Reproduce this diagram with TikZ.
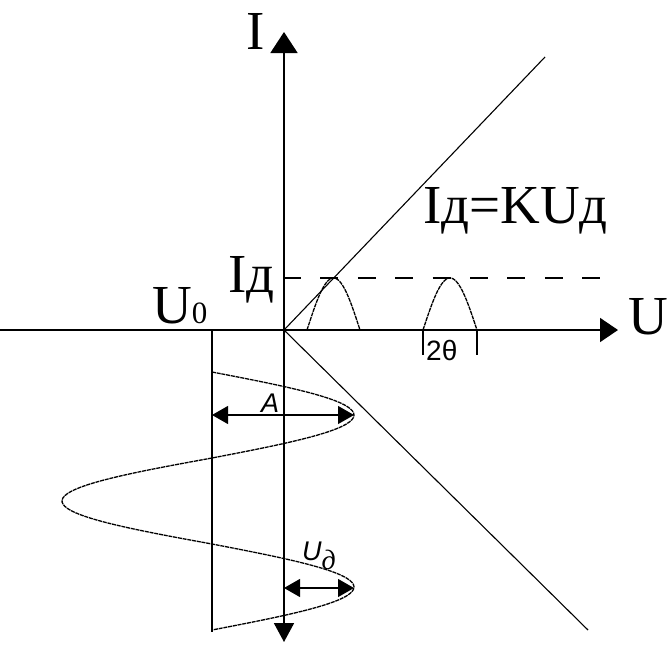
\documentclass[tikz,border=0pt]{standalone}
\usepackage{fontspec}
\setmainfont{Liberation Serif}
\setsansfont{Liberation Sans}
\usepackage{tikz}
\usetikzlibrary{arrows.meta, calc}

\tikzset{
    axisline/.style={line width=1.8pt},
    slopeline/.style={line width=1.1pt},
    pulseline/.style={line width=1.3pt, dash pattern=on 4pt off 0.8pt},
    biglabel/.style={font=\fontsize{55}{60}\selectfont, inner sep=0pt, anchor=base west},
    handlabel/.style={font=\sffamily\itshape\fontsize{27}{29}\selectfont, inner sep=0pt, anchor=base west},
    bigtip/.style={-{Triangle[length=18pt, width=24pt]}},
    amptip/.style={{Triangle[length=16pt, width=18pt]}-{Triangle[length=16pt, width=18pt]}}
}

\begin{document}
\begin{tikzpicture}[x=1pt, y=-1pt]
    \useasboundingbox (0,0) rectangle (670,646);

    % 1. KEY POINTS
    \coordinate (O) at (284,330);
    \coordinate (Itop) at (284,32);
    \coordinate (Ibot) at (284,642);
    \coordinate (Uleft) at (0,330);
    \coordinate (Uright) at (618,330);
    \coordinate (U0top) at (212,330);
    \coordinate (U0bot) at (212,632);
    \coordinate (Kup) at (545,57);
    \coordinate (Kdown) at (588,630);
    \coordinate (Idtick) at (283,278);
    \coordinate (Idend) at (602,278);

    % 2. AXES
    \draw[axisline, bigtip] (Uleft) -- (Uright);
    \draw[axisline, {Triangle[length=19pt, width=20pt]}-{Triangle[length=21pt, width=27pt]}] (Ibot) -- (Itop);
    \draw[line width=1.6pt] (U0top) -- (U0bot);

    % 3. CHARACTERISTIC AND CURRENT LEVEL
    \draw[slopeline] (O) -- (Kup);
    \draw[slopeline] (O) -- (Kdown);
    \draw[line width=1.2pt, dash pattern=on 18pt off 19.4pt] (Idtick) -- (Idend);

    % 4. PULSES ON THE U AXIS
    \draw[pulseline] plot[domain=307:360, samples=40, smooth] (\x, {330 - 52*sin(180*(\x-307)/53)});
    \draw[pulseline] plot[domain=423:477, samples=40, smooth] (\x, {330 - 52*sin(180*(\x-423)/54)});
    \coordinate (Tleft) at (423,330);
    \coordinate (Tright) at (477,330);
    \draw[line width=1.2pt] (Tleft) -- ++(0,25);
    \draw[line width=1.2pt] (Tright) -- ++(0,25);
    \node[handlabel, font=\sffamily\fontsize{28}{30}\selectfont] (theta) at (426,360) {2θ};

    % 5. INPUT VOLTAGE
    \draw[pulseline] plot[domain=0:540, samples=120, smooth, variable=\t]
        ({212 + sin(\t)*(sin(\t) > 0 ? 142 : 150)}, {372 + \t/360*172});
    \coordinate (Aleft) at (212,415);
    \coordinate (Aright) at (354,415);
    \draw[line width=1.1pt, amptip] (Aleft) -- (Aright);
    \coordinate (Gleft) at (284,588);
    \coordinate (Gright) at (354,588);
    \draw[line width=1.1pt, amptip] (Gleft) -- (Gright);
    \node[handlabel] (Alab) at (261,412) {A};
    \node[handlabel] (Uglab) at (302,560) {U\raisebox{-9pt}{\rmfamily\itshape\fontsize{28}{30}\selectfont д}};

    % 6. LABELS
    \node[biglabel] (Ilab) at (246,49) {I};
    \node[biglabel] (Ulab) at (628,334) {U};
    \node[biglabel] (Idlab) at (228,292) {Iд};
    \node[biglabel] (U0lab) at (152,323) {U{\fontsize{31}{33}\selectfont 0}};
    \node[biglabel] (lawlab) at (423,223) {Iд=KUд};

\end{tikzpicture}
\end{document}
